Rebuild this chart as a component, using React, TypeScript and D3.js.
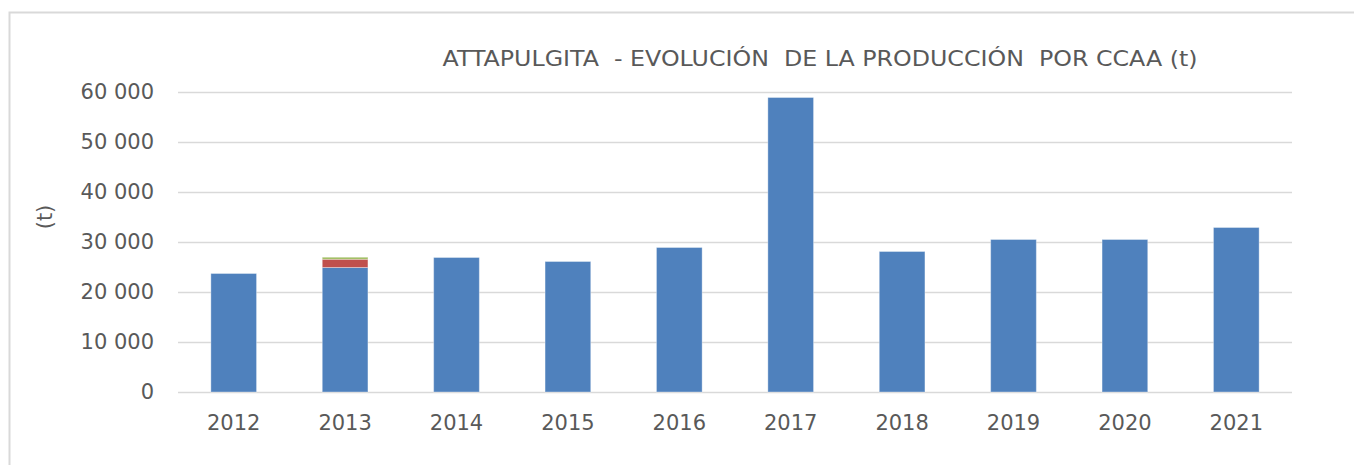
import { useEffect, useRef } from 'react';
import { scaleBand, scaleLinear, stack, select, axisLeft, axisBottom } from 'd3';

const years = ['2012', '2013', '2014', '2015', '2016', '2017', '2018', '2019', '2020', '2021'];
const serieA = [23700, 24900, 26900, 26100, 28900, 58900, 28100, 30500, 30500, 32900];
const serieB = [0, 1650, 0, 0, 0, 0, 0, 0, 0, 0];
const serieC = [0, 400, 0, 0, 0, 0, 0, 0, 0, 0];
const yTicks = [0, 10000, 20000, 30000, 40000, 50000, 60000];
const title = 'ATTAPULGITA  - EVOLUCIÓN  DE LA PRODUCCIÓN  POR CCAA (t)';

const keys = ['a', 'b', 'c'];
const colors: Record<string, string> = { a: '#4f81bd', b: '#c0504d', c: '#9bbb59' };

const width = 1354;
const height = 465;
const margin = { top: 92, right: 62, bottom: 73, left: 178 };
const font = 'Tahoma, "DejaVu Sans", sans-serif';

const fmt = (v: number) => (v === 0 ? '0' : `${Math.floor(v / 1000)} ${String(v % 1000).padStart(3, '0')}`);

export default function App() {
  const yAxisRef = useRef<SVGGElement>(null);
  const xAxisRef = useRef<SVGGElement>(null);

  const rows = years.map((y, i) => ({ year: y, a: serieA[i], b: serieB[i], c: serieC[i] }));
  const layers = stack<any>().keys(keys)(rows);

  const innerW = width - margin.left - margin.right;
  const innerH = height - margin.top - margin.bottom;

  const x = scaleBand().domain(years).range([0, innerW]).paddingInner(0.59).paddingOuter(0.295);
  const y = scaleLinear().domain([0, 60000]).range([innerH, 0]);

  useEffect(() => {
    if (yAxisRef.current) {
      const g = select(yAxisRef.current);
      g.call(axisLeft(y).tickValues(yTicks).tickFormat((d: any) => fmt(d)).tickSize(-innerW).tickPadding(24));
      g.select('.domain').remove();
      g.selectAll('.tick line').attr('stroke', '#d9d9d9').attr('stroke-width', 1.5);
      g.selectAll('.tick text')
        .attr('fill', '#595959')
        .attr('font-size', 21)
        .attr('font-family', font);
    }
    if (xAxisRef.current) {
      const g = select(xAxisRef.current);
      g.call(axisBottom(x).tickSize(0).tickPadding(23));
      g.select('.domain').remove();
      g.selectAll('.tick text')
        .attr('fill', '#595959')
        .attr('font-size', 21)
        .attr('font-family', font);
    }
  });

  return (
    <svg width={width} height={height} style={{ position: 'fixed', left: 0, top: 0, background: '#fff' }}>
      <rect x={9.5} y={12.5} width={width} height={height} fill="#fff" stroke="#d9d9d9" strokeWidth={2} />
      <text
        x={820}
        y={66}
        textAnchor="middle"
        fill="#595959"
        fontSize={22}
        fontFamily={font}
        style={{ whiteSpace: 'pre' }}
        textLength={755}
        lengthAdjust="spacingAndGlyphs"
      >
        {title}
      </text>
      <text
        transform={`translate(52, ${margin.top + innerH / 2 - 25}) rotate(-90)`}
        textAnchor="middle"
        fill="#595959"
        fontSize={21}
        fontFamily={font}
      >
        (t)
      </text>
      <g transform={`translate(${margin.left}, ${margin.top})`}>
        <g ref={yAxisRef} />
        <g ref={xAxisRef} transform={`translate(0, ${innerH})`} />
        {layers.map((layer) => (
          <g key={layer.key} fill={colors[layer.key]}>
            {layer.map((d, i) =>
              d[1] - d[0] > 0 ? (
                <rect
                  key={i}
                  x={x(years[i])}
                  y={y(d[1])}
                  width={x.bandwidth()}
                  height={y(d[0]) - y(d[1])}
                  stroke="rgba(255,255,255,0.35)"
                  strokeWidth={1}
                />
              ) : null
            )}
          </g>
        ))}
      </g>
    </svg>
  );
}
